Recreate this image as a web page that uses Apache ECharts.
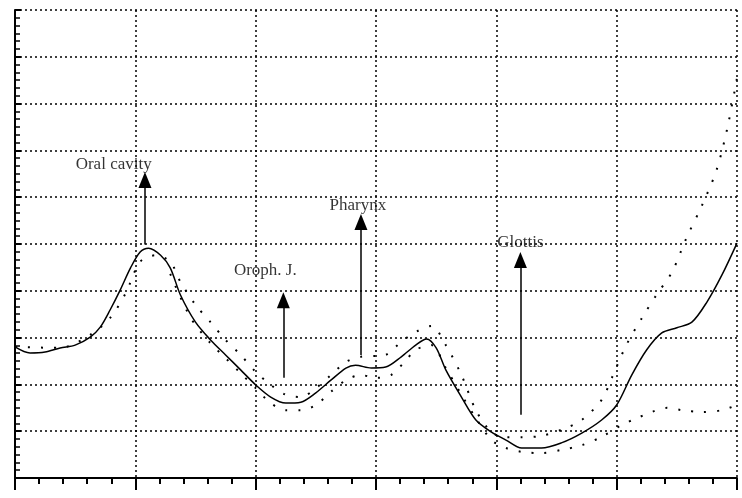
<!DOCTYPE html>
<html>
<head>
<meta charset="utf-8">
<script src="https://cdn.jsdelivr.net/npm/echarts@6/dist/echarts.min.js"></script>
<style>html,body{margin:0;padding:0;background:#fff}#chart{width:742px;height:498px}</style>
</head>
<body>
<div id="chart"></div>
<script>
// solid profile
var solidLine = [[0,2.80],[0.125,2.67],[0.25,2.69],[0.375,2.78],[0.5,2.84],[0.625,3.01],[0.71,3.23],[0.79,3.59],[0.875,4.02],[0.96,4.49],[1.04,4.83],[1.11,4.91],[1.21,4.76],[1.29,4.49],[1.375,3.91],[1.5,3.33],[1.625,2.95],[1.75,2.63],[1.875,2.31],[2.0,1.99],[2.125,1.73],[2.25,1.60],[2.375,1.62],[2.5,1.82],[2.625,2.09],[2.75,2.35],[2.83,2.41],[2.96,2.35],[3.08,2.37],[3.21,2.59],[3.33,2.84],[3.42,2.97],[3.5,2.78],[3.58,2.31],[3.71,1.73],[3.83,1.24],[3.96,0.98],[4.08,0.81],[4.21,0.64],[4.375,0.64],[4.54,0.75],[4.71,0.96],[4.875,1.24],[5.0,1.56],[5.125,2.20],[5.25,2.74],[5.375,3.10],[5.5,3.21],[5.625,3.33],[5.75,3.76],[5.875,4.34],[6.0,5.02]];
// dotted upper band
var dotUpper = [[0,2.80],[0.375,2.78],[0.625,3.06],[0.79,3.42],[0.92,3.95],[1.04,4.62],[1.17,4.76],[1.29,4.62],[1.375,4.19],[1.5,3.70],[1.625,3.33],[1.75,2.95],[1.875,2.63],[2.0,2.27],[2.125,1.99],[2.25,1.78],[2.375,1.73],[2.5,1.92],[2.625,2.20],[2.75,2.48],[2.875,2.59],[3.0,2.61],[3.08,2.63],[3.21,2.91],[3.33,3.12],[3.46,3.25],[3.58,2.84],[3.71,2.20],[3.83,1.45],[3.96,0.98],[4.08,0.87],[4.21,0.87],[4.375,0.90],[4.54,1.03],[4.71,1.24],[4.875,1.67],[4.96,2.14],[5.08,2.84],[5.21,3.42],[5.33,3.91],[5.46,4.40],[5.58,5.13],[5.71,5.83],[5.83,6.58],[5.92,7.48],[6.0,8.55]];
// dotted lower band
var dotLower = [[1.29,4.36],[1.46,3.42],[1.625,2.88],[1.75,2.56],[1.875,2.24],[2.0,1.92],[2.125,1.60],[2.25,1.45],[2.375,1.45],[2.5,1.56],[2.625,1.84],[2.75,2.09],[2.875,2.20],[3.0,2.14],[3.125,2.20],[3.25,2.52],[3.33,2.74],[3.46,2.84],[3.58,2.35],[3.71,1.78],[3.83,1.28],[3.96,0.81],[4.08,0.64],[4.21,0.56],[4.375,0.53],[4.54,0.60],[4.71,0.70],[4.875,0.88],[5.04,1.13],[5.17,1.28],[5.29,1.41],[5.42,1.50],[5.54,1.45],[5.71,1.41],[5.875,1.45],[6.0,1.56]];
// annotations
var labels = ['Oral cavity', 'Oroph. J.', 'Pharynx', 'Glottis'];
var arrowX = [1.08, 2.23, 2.875, 4.2];
var arrowFrom = [4.99, 2.14, 2.63, 1.35];
var arrowTo = [6.37, 3.80, 5.47, 4.66];
var labelX = [0.82, 2.08, 2.85, 4.2];
var labelY = [6.7, 4.44, 5.83, 5.04];

var myChart = echarts.init(document.getElementById('chart'));
var dotStyle = {color: '#000', width: 2, type: [2, 11]};

var option = {
    backgroundColor: '#fff',
    animation: false,
    grid: {left: 15, right: 5, top: 10, bottom: 20},
    xAxis: {
        type: 'value', min: 0, max: 6, interval: 1,
        axisLine: {lineStyle: {color: '#000', width: 2}},
        axisTick: {show: true, length: 12, lineStyle: {color: '#000', width: 2}},
        minorTick: {show: true, splitNumber: 5, length: 6, lineStyle: {color: '#000', width: 2}},
        axisLabel: {show: false},
        splitLine: {show: true, lineStyle: {color: '#000', width: 1.5, type: [2, 3]}}
    },
    yAxis: {
        type: 'value', min: 0, max: 10, interval: 1,
        axisLine: {show: true, lineStyle: {color: '#000', width: 2}},
        axisTick: {show: true, inside: true, length: 6, lineStyle: {color: '#000', width: 2}},
        minorTick: {show: true, splitNumber: 6, length: 5, lineStyle: {color: '#000', width: 1.5}},
        axisLabel: {show: false},
        splitLine: {show: true, lineStyle: {color: '#000', width: 1.5, type: [2, 3]}}
    },
    series: [{
        type: 'line', data: solidLine, smooth: 0.3, symbol: 'none',
        lineStyle: {color: '#000', width: 1.5}
    }, {
        type: 'line', data: dotUpper, smooth: 0.3, symbol: 'none', lineStyle: dotStyle
    }, {
        type: 'line', data: dotLower, smooth: 0.3, symbol: 'none', lineStyle: dotStyle,
        markLine: {
            silent: true,
            symbol: ['none', 'triangle'],
            symbolSize: [13, 16],
            label: {show: false},
            lineStyle: {color: '#000', width: 1.5, type: 'solid'},
            data: arrowX.map(function(x, i) {
                return [{coord: [x, arrowFrom[i]]}, {coord: [x, arrowTo[i]]}];
            })
        }
    }, {
        type: 'scatter', symbolSize: 0, silent: true,
        data: labels.map(function(t, i) { return {name: t, value: [labelX[i], labelY[i]]}; }),
        label: {
            show: true, position: 'inside', formatter: '{b}',
            color: '#000', fontFamily: 'Liberation Serif', fontSize: 17,
            textBorderWidth: 0
        }
    }]
};
myChart.setOption(option);
</script>
</body>
</html>
